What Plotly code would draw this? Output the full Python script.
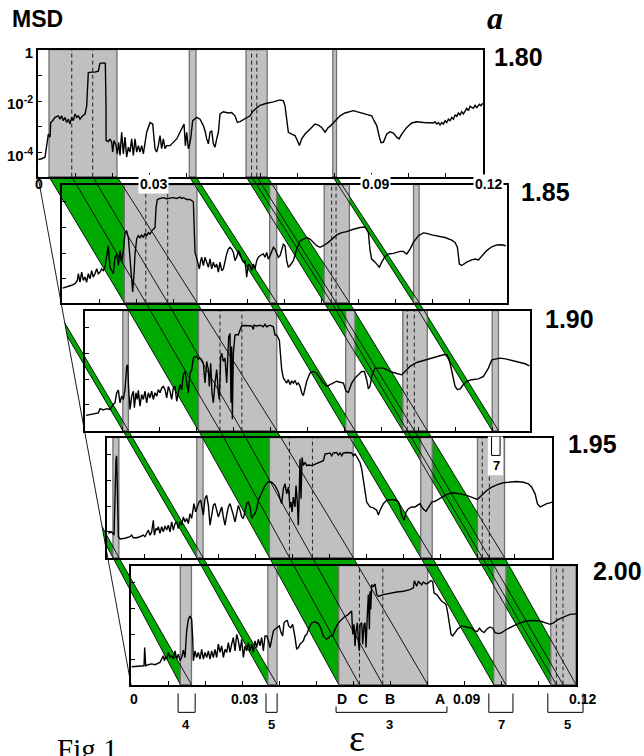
import plotly.graph_objects as go

# ------------------------------------------------------------------
# Data: MSD(eps) for five values of the control parameter.
# eps is stored in units of 1e-3, MSD as log10(MSD).
# ------------------------------------------------------------------
params = ["1.80", "1.85", "1.90", "1.95", "2.00"]

eps_180 = [0.09, 0.99, 1.89, 2.34, 2.79, 3.24, 3.42, 3.96, 4.58, 5.48,
           5.93, 6.38, 6.83, 7.28, 7.73, 8.18, 8.63, 9.08, 9.53, 9.98,
           10.43, 10.88, 11.33, 12.05, 12.68, 13.13, 13.57, 14.47, 15.37, 16.27,
           16.72, 17.62, 18.16, 18.34, 18.36, 18.97, 19.42, 19.87, 20.14, 20.50,
           21.04, 21.40, 21.76, 22.12, 22.56, 23.01, 23.46, 23.91, 24.36, 24.81,
           25.26, 25.71, 26.16, 26.61, 27.06, 27.51, 27.96, 28.41, 29.31, 30.21,
           30.93, 31.55, 32.00, 32.45, 32.90, 33.35, 33.80, 34.25, 34.70, 35.60,
           36.50, 37.40, 38.30, 39.02, 39.38, 39.74, 40.10, 40.54, 40.81, 41.17,
           41.71, 42.79, 43.69, 44.59, 45.04, 45.49, 45.94, 46.39, 46.84, 47.29,
           47.74, 48.19, 48.64, 49.09, 49.98, 51.33, 52.23, 53.13, 53.76, 54.48,
           55.38, 56.28, 57.18, 58.08, 58.97, 59.87, 61.67, 63.47, 65.27, 66.17,
           66.62, 67.07, 67.51, 68.41, 69.31, 69.94, 70.48, 71.11, 72.01, 72.91,
           73.81, 74.71, 75.61, 76.50, 77.40, 78.30, 78.75, 79.65, 80.55, 81.45,
           82.80, 84.15, 85.05, 85.94, 87.29, 88.64, 89.99, 90.62, 91.34, 92.06,
           92.51, 93.14, 94.04, 94.93, 95.83, 96.73, 97.36, 98.08, 99.43, 100.78,
           102.13, 103.92, 105.72, 106.62, 107.07, 107.52, 107.97, 108.42, 108.87, 109.32,
           109.77, 110.22, 110.67, 111.12, 111.57, 112.02, 112.47, 112.92, 113.37, 113.81,
           114.26, 114.71, 115.61, 116.06, 116.51, 117.41, 117.86, 118.31, 119.03, 119.48,
           119.93]
lg_180 = [-4.27, -4.24, -4.18, -3.73, -3.28, -3.40, -2.83, -2.76, -2.63, -2.57,
          -2.70, -2.57, -2.76, -2.63, -2.83, -2.70, -2.89, -2.63, -2.76, -2.50,
          -2.63, -2.57, -2.70, -2.57, -2.50, -2.18, -0.89, -0.87, -0.87, -0.83,
          -0.53, -0.51, -0.53, -2.18, -3.53, -3.57, -3.47, -3.60, -3.98, -3.53,
          -3.73, -4.05, -3.60, -4.11, -3.21, -4.05, -3.40, -4.18, -3.79, -3.98,
          -3.47, -4.11, -3.47, -3.98, -3.73, -3.98, -3.73, -4.05, -3.21, -2.83,
          -2.89, -3.85, -3.98, -3.73, -3.34, -3.85, -3.47, -3.85, -3.73, -3.73,
          -3.60, -3.47, -3.21, -2.95, -2.89, -3.73, -3.21, -3.85, -3.73, -3.47,
          -2.76, -2.63, -2.70, -2.95, -3.15, -3.47, -3.66, -3.21, -3.15, -3.66,
          -3.79, -3.47, -3.21, -2.50, -2.41, -2.46, -2.44, -2.57, -2.83, -2.80,
          -2.72, -2.67, -2.57, -2.37, -2.25, -2.16, -2.08, -2.03, -1.95, -1.99,
          -2.18, -2.83, -3.21, -3.28, -3.34, -3.53, -3.73, -3.47, -3.28, -3.15,
          -3.02, -2.89, -2.93, -3.02, -3.21, -3.02, -2.98, -2.83, -2.70, -2.57,
          -2.46, -2.41, -2.37, -2.41, -2.46, -2.50, -2.57, -2.76, -2.95, -3.40,
          -3.62, -3.60, -3.28, -3.19, -3.24, -3.40, -3.47, -3.28, -3.02, -2.85,
          -2.80, -2.83, -2.83, -2.85, -2.80, -2.89, -2.83, -2.93, -2.83, -2.89,
          -2.76, -2.83, -2.70, -2.76, -2.63, -2.70, -2.54, -2.59, -2.46, -2.54,
          -2.41, -2.50, -2.28, -2.37, -2.20, -2.28, -2.16, -2.25, -2.12, -2.18,
          -2.08]

eps_185 = [0.18, 1.26, 2.61, 3.51, 4.14, 4.41, 4.85, 5.30, 5.75, 6.20,
           6.65, 7.10, 7.55, 8.00, 8.45, 8.90, 9.35, 9.80, 10.25, 10.70,
           11.15, 11.60, 12.05, 12.50, 12.95, 13.40, 13.84, 14.29, 14.74, 15.19,
           15.64, 16.09, 16.54, 16.99, 17.44, 17.89, 18.34, 18.79, 19.06, 19.42,
           19.69, 20.14, 20.59, 21.04, 21.49, 21.94, 22.38, 22.83, 23.28, 23.73,
           24.18, 24.63, 25.08, 25.35, 25.71, 26.43, 27.33, 28.23, 29.13, 30.03,
           30.93, 31.82, 32.27, 32.72, 33.62, 34.52, 35.42, 35.87, 36.32, 36.77,
           37.04, 37.40, 37.67, 38.12, 38.57, 39.02, 39.47, 39.92, 40.37, 40.81,
           41.26, 41.71, 42.16, 42.61, 43.06, 43.51, 43.96, 44.41, 44.86, 45.31,
           45.76, 46.21, 46.66, 47.11, 47.56, 48.01, 48.46, 48.91, 49.36, 49.80,
           50.25, 50.70, 51.15, 51.60, 52.05, 52.50, 52.95, 53.40, 54.30, 54.75,
           55.20, 55.65, 56.10, 56.55, 57.00, 57.45, 57.90, 58.35, 58.79, 59.24,
           59.69, 60.14, 60.59, 61.04, 61.49, 62.39, 63.29, 64.19, 65.09, 65.99,
           66.89, 67.78, 68.68, 69.58, 70.48, 71.83, 72.28, 73.18, 74.08, 75.43,
           76.78, 78.57, 80.37, 81.72, 82.62, 83.07, 83.52, 84.42, 85.58, 86.21,
           87.11, 88.01, 89.36, 91.16, 92.06, 92.96, 93.86, 94.75, 96.10, 97.45,
           98.35, 99.70, 101.50, 103.29, 105.09, 105.99, 106.62, 107.16, 107.79, 109.14,
           110.49, 111.39, 112.29, 113.18, 114.53, 115.88, 117.23, 118.58, 119.66]
lg_185 = [-4.36, -4.32, -4.25, -4.19, -4.06, -3.80, -4.13, -3.74, -4.06, -3.93,
          -4.13, -3.80, -4.00, -3.68, -3.93, -3.80, -3.61, -3.80, -3.74, -3.61,
          -3.68, -3.55, -3.10, -2.71, -3.55, -3.68, -3.80, -3.16, -3.03, -3.48,
          -2.90, -3.35, -2.90, -2.20, -2.13, -2.39, -3.16, -3.80, -4.51, -3.80,
          -3.03, -2.45, -2.32, -2.39, -2.29, -2.39, -2.23, -2.32, -2.20, -2.26,
          -2.13, -2.07, -2.00, -1.23, -0.91, -0.87, -0.84, -0.88, -0.87, -0.84,
          -0.87, -0.82, -0.87, -0.84, -0.91, -0.91, -1.00, -2.97, -3.19, -3.42,
          -3.61, -3.29, -3.16, -3.48, -3.16, -3.35, -3.55, -3.22, -3.61, -3.35,
          -3.55, -3.42, -3.74, -3.35, -3.68, -3.61, -3.29, -3.03, -2.84, -2.77,
          -2.84, -2.97, -3.29, -3.16, -2.90, -3.03, -3.23, -3.35, -3.29, -3.93,
          -3.42, -3.48, -3.68, -3.42, -3.61, -3.29, -3.16, -3.10, -3.03, -3.16,
          -2.97, -3.23, -3.10, -2.90, -2.77, -2.84, -3.03, -3.16, -3.10, -2.84,
          -2.65, -2.71, -3.29, -3.55, -3.48, -3.29, -2.84, -2.52, -2.45, -2.39,
          -2.45, -2.58, -2.71, -2.77, -2.71, -2.58, -2.52, -2.39, -2.29, -2.20,
          -2.16, -2.07, -2.00, -1.98, -2.20, -2.90, -3.23, -3.35, -3.55, -3.35,
          -3.13, -3.03, -3.01, -2.93, -2.93, -3.03, -2.84, -2.58, -2.32, -2.21,
          -2.23, -2.29, -2.34, -2.39, -2.49, -2.58, -2.77, -3.42, -3.48, -3.35,
          -3.26, -3.23, -3.26, -3.10, -2.90, -2.75, -2.68, -2.67, -2.71]

eps_190 = [0.27, 1.35, 2.70, 3.60, 4.05, 4.94, 5.84, 6.74, 7.64, 8.09,
           8.54, 8.99, 9.44, 9.89, 10.34, 10.79, 11.24, 11.51, 11.78, 12.14,
           12.59, 13.04, 13.31, 13.75, 14.11, 14.38, 14.83, 15.28, 15.73, 16.18,
           16.63, 17.08, 17.53, 17.98, 18.43, 18.88, 19.33, 19.78, 20.23, 20.68,
           21.13, 21.58, 22.03, 22.48, 22.92, 23.37, 23.82, 24.27, 24.72, 25.17,
           25.62, 26.07, 26.52, 26.97, 27.42, 27.87, 28.32, 28.77, 29.22, 29.67,
           30.12, 30.57, 31.02, 31.47, 31.91, 32.36, 32.81, 33.26, 33.53, 33.89,
           34.25, 34.61, 35.06, 35.51, 35.96, 36.23, 36.59, 36.86, 37.31, 37.76,
           38.21, 38.48, 38.75, 39.10, 39.37, 39.55, 39.73, 40.00, 40.27, 40.45,
           40.90, 41.35, 41.80, 42.25, 43.15, 44.05, 44.95, 45.40, 45.58, 46.30,
           47.20, 48.09, 48.55, 48.99, 49.89, 50.79, 51.24, 51.69, 52.41, 53.04,
           53.49, 54.39, 54.84, 55.29, 55.74, 56.19, 56.64, 57.09, 57.54, 57.99,
           58.44, 58.88, 59.33, 59.78, 60.68, 61.58, 62.48, 63.38, 64.28, 65.18,
           66.08, 66.98, 67.87, 68.77, 69.67, 70.39, 71.02, 71.92, 72.82, 73.72,
           74.62, 75.33, 75.96, 76.41, 76.86, 77.31, 77.76, 78.21, 79.11, 80.46,
           81.36, 82.26, 83.61, 84.51, 85.40, 86.30, 87.65, 89.45, 91.25, 93.05,
           94.85, 96.65, 97.55, 98.00, 98.45, 98.90, 99.35, 99.80, 100.43, 101.15,
           102.05, 102.94, 104.29, 106.09, 107.44, 108.79, 109.69, 110.59, 111.94, 113.74,
           115.54, 117.34, 118.69, 119.86]
lg_190 = [-4.41, -4.37, -4.35, -4.31, -4.15, -4.20, -4.15, -4.18, -3.98, -3.92,
          -3.53, -3.43, -3.92, -3.66, -3.79, -3.41, -2.50, -2.44, -3.41, -4.18,
          -3.66, -3.47, -4.11, -3.53, -3.79, -3.43, -4.05, -3.60, -3.79, -3.47,
          -3.92, -3.53, -3.73, -3.47, -3.79, -3.53, -3.66, -3.41, -3.53, -3.34,
          -3.28, -3.41, -3.73, -3.28, -3.47, -3.79, -3.34, -3.28, -3.86, -3.53,
          -3.21, -3.41, -2.83, -2.70, -3.15, -3.53, -2.76, -2.63, -2.18, -2.12,
          -2.12, -2.22, -2.18, -2.25, -2.38, -3.15, -2.31, -2.63, -3.28, -2.38,
          -3.53, -3.92, -3.15, -2.63, -3.53, -3.79, -2.12, -1.99, -2.31, -2.18,
          -3.15, -2.38, -1.35, -1.22, -3.92, -1.73, -4.56, -1.99, -1.48, -1.28,
          -1.26, -1.28, -1.09, -0.93, -0.91, -0.93, -0.93, -1.06, -0.90, -0.93,
          -0.90, -0.96, -0.86, -0.96, -0.90, -0.96, -1.28, -1.28, -1.48, -2.63,
          -2.95, -3.15, -3.02, -3.21, -3.08, -3.15, -3.05, -3.21, -3.15, -3.28,
          -3.53, -3.64, -3.41, -3.08, -2.76, -2.70, -2.76, -2.96, -3.15, -3.28,
          -3.21, -3.15, -3.08, -3.12, -3.15, -3.47, -3.51, -3.15, -2.95, -2.83,
          -2.70, -2.70, -3.02, -3.38, -3.28, -2.89, -2.76, -2.57, -2.57, -2.57,
          -2.63, -2.70, -2.76, -2.80, -2.83, -2.70, -2.50, -2.35, -2.27, -2.18,
          -2.12, -2.05, -2.05, -2.18, -2.38, -2.70, -3.08, -3.28, -3.41, -3.38,
          -3.21, -3.08, -3.02, -2.99, -2.89, -2.57, -2.25, -2.22, -2.18, -2.22,
          -2.27, -2.35, -2.40, -2.48]

eps_195 = [0.36, 1.26, 1.89, 2.16, 2.43, 2.61, 2.79, 3.06, 3.51, 4.85,
           6.20, 6.65, 7.10, 8.00, 8.90, 9.80, 10.25, 10.70, 11.15, 11.60,
           12.05, 12.50, 12.77, 13.22, 13.57, 13.84, 14.29, 14.74, 15.19, 15.64,
           16.09, 16.54, 16.99, 17.44, 17.89, 18.34, 18.79, 19.24, 19.69, 20.14,
           20.59, 21.04, 21.49, 21.94, 22.38, 22.83, 23.10, 23.46, 23.91, 24.36,
           24.81, 25.26, 25.62, 25.98, 26.43, 26.88, 27.33, 27.78, 28.23, 28.68,
           29.13, 29.58, 30.03, 30.48, 30.93, 31.37, 31.82, 32.27, 32.72, 33.17,
           33.62, 34.07, 34.52, 34.97, 35.42, 35.87, 36.32, 36.77, 37.22, 37.67,
           38.12, 38.57, 39.02, 39.47, 39.92, 40.37, 40.81, 41.71, 42.61, 43.51,
           44.41, 45.31, 46.21, 46.66, 47.11, 47.56, 48.01, 48.46, 48.91, 49.36,
           49.62, 49.89, 50.25, 50.70, 50.97, 51.33, 51.60, 51.87, 52.05, 52.32,
           52.59, 52.95, 53.40, 53.85, 54.30, 55.20, 56.10, 57.45, 58.35, 58.79,
           59.69, 60.14, 60.59, 61.04, 61.94, 62.39, 62.84, 63.29, 63.74, 64.64,
           65.99, 66.44, 66.89, 67.34, 68.23, 68.68, 69.13, 70.03, 70.93, 71.83,
           72.73, 73.18, 73.63, 74.53, 75.43, 76.33, 77.22, 77.94, 78.57, 79.02,
           79.47, 80.10, 80.64, 81.27, 82.17, 83.07, 83.70, 84.42, 84.87, 85.32,
           86.04, 86.66, 87.56, 88.46, 89.81, 91.16, 92.06, 93.41, 95.20, 97.00,
           98.80, 99.88, 101.05, 102.40, 103.75, 105.10, 106.89, 108.69, 110.49, 112.29,
           113.64, 114.54, 115.44, 116.07, 116.79, 117.69, 118.58, 119.48, 120.0]
lg_195 = [-4.06, -4.00, -4.13, -2.32, -1.17, -1.04, -2.32, -4.19, -4.28, -4.25,
          -4.19, -4.13, -4.23, -4.23, -4.19, -4.13, -4.19, -4.06, -3.93, -4.13,
          -4.00, -3.55, -4.13, -3.87, -3.93, -3.80, -4.06, -3.80, -4.00, -3.77,
          -3.93, -3.74, -4.00, -3.61, -3.93, -3.68, -3.61, -3.87, -3.61, -3.74,
          -3.42, -3.61, -3.48, -3.68, -3.29, -3.48, -3.16, -2.90, -3.22, -3.03,
          -2.84, -2.77, -3.10, -3.35, -2.71, -2.58, -2.97, -3.74, -3.35, -2.97,
          -2.90, -3.16, -3.42, -3.23, -3.03, -3.42, -3.74, -3.35, -3.03, -2.90,
          -3.10, -3.35, -3.61, -3.29, -2.97, -3.16, -3.42, -3.48, -3.22, -2.90,
          -2.84, -3.03, -3.48, -3.35, -3.29, -3.10, -2.77, -2.45, -2.20, -2.04,
          -2.07, -2.20, -2.45, -2.71, -2.90, -2.32, -2.13, -2.52, -2.26, -3.03,
          -2.84, -3.23, -2.65, -3.03, -2.20, -2.84, -3.74, -2.32, -1.17, -2.71,
          -1.10, -1.42, -1.29, -1.42, -1.40, -1.42, -1.36, -1.29, -1.23, -0.97,
          -0.93, -0.93, -1.04, -0.93, -0.91, -1.01, -0.93, -1.04, -0.93, -0.91,
          -0.93, -1.04, -0.97, -1.10, -1.30, -1.55, -2.00, -2.84, -3.03, -3.07,
          -3.16, -3.35, -3.16, -2.90, -2.77, -2.74, -2.74, -2.77, -2.84, -3.03,
          -3.35, -3.55, -3.23, -3.10, -3.03, -3.03, -2.97, -2.90, -3.03, -3.12,
          -3.20, -3.03, -2.84, -2.81, -2.68, -2.58, -2.52, -2.48, -2.52, -2.58,
          -2.68, -2.74, -2.58, -2.39, -2.26, -2.17, -2.09, -2.07, -2.04, -2.07,
          -2.13, -2.26, -2.52, -2.90, -3.03, -2.97, -2.90, -2.87, -2.84]

eps_200 = [0.18, 1.53, 2.88, 3.51, 3.69, 3.96, 4.67, 5.57, 6.47, 7.37,
           7.82, 8.27, 8.72, 8.99, 9.35, 9.62, 10.07, 10.52, 10.97, 11.42,
           11.87, 12.32, 12.77, 13.22, 13.66, 14.11, 14.56, 15.01, 15.46, 15.91,
           16.36, 16.63, 16.81, 17.26, 17.71, 18.16, 18.61, 19.06, 19.51, 19.96,
           20.41, 20.86, 21.31, 21.76, 22.21, 22.65, 23.10, 23.55, 24.00, 24.45,
           24.90, 25.35, 25.80, 26.25, 26.70, 27.15, 27.60, 28.05, 28.50, 28.95,
           29.40, 29.85, 30.30, 30.75, 31.19, 31.64, 32.09, 32.54, 32.99, 33.44,
           33.89, 34.34, 34.79, 35.24, 35.69, 36.14, 36.59, 37.04, 37.49, 37.94,
           38.39, 38.84, 39.29, 40.00, 40.46, 40.90, 41.26, 41.71, 42.16, 42.52,
           43.06, 43.60, 44.23, 44.68, 45.13, 45.58, 46.03, 46.48, 46.93, 47.38,
           48.10, 48.73, 49.63, 50.52, 51.15, 51.87, 52.59, 53.22, 53.67, 54.39,
           55.02, 55.92, 57.27, 58.61, 59.51, 59.78, 60.14, 60.41, 60.68, 61.04,
           61.31, 61.58, 61.76, 62.21, 62.48, 62.84, 63.11, 63.38, 63.74, 64.01,
           64.28, 64.46, 64.64, 64.91, 65.36, 65.81, 66.26, 66.71, 68.06, 69.85,
           71.65, 73.45, 75.25, 76.15, 76.42, 77.04, 77.49, 77.94, 78.39, 78.84,
           79.56, 80.19, 80.82, 81.36, 81.72, 82.44, 83.16, 83.79, 84.42, 84.96,
           85.41, 85.85, 86.30, 86.75, 87.38, 88.01, 89.18, 90.53, 91.88, 92.78,
           93.41, 93.95, 94.58, 95.20, 95.92, 96.82, 97.54, 98.17, 99.07, 99.97,
           101.32, 103.12, 104.92, 106.71, 108.51, 110.31, 112.11, 113.01, 113.91, 115.26,
           116.61, 118.41, 120.0]
lg_200 = [-4.27, -4.25, -4.24, -4.23, -3.52, -4.23, -4.19, -4.16, -4.19, -4.14,
          -4.10, -3.97, -3.84, -4.04, -3.88, -3.97, -3.71, -3.91, -3.84, -3.97,
          -3.65, -3.97, -3.78, -4.04, -3.91, -3.62, -3.91, -2.88, -2.43, -2.30,
          -2.43, -3.13, -4.04, -3.65, -3.91, -3.71, -3.97, -3.59, -3.97, -3.71,
          -3.91, -3.65, -3.97, -3.65, -3.91, -3.59, -3.91, -3.39, -3.71, -3.46,
          -3.91, -3.59, -3.71, -3.33, -3.71, -3.39, -3.13, -3.65, -3.01, -3.26,
          -3.65, -3.20, -3.91, -3.46, -3.65, -3.33, -3.65, -3.39, -3.71, -3.26,
          -3.52, -3.20, -3.46, -3.13, -3.65, -3.07, -3.07, -3.26, -3.52, -3.20,
          -2.88, -2.81, -2.75, -2.68, -2.94, -3.07, -2.56, -2.49, -2.47, -2.68,
          -2.75, -2.62, -3.13, -3.59, -3.52, -3.39, -3.33, -3.26, -3.07, -3.01,
          -2.72, -2.56, -2.52, -2.59, -2.75, -3.07, -3.20, -3.16, -3.07, -3.07,
          -2.81, -2.56, -2.36, -2.23, -2.10, -3.01, -2.62, -3.46, -2.88, -2.56,
          -3.26, -3.65, -2.62, -2.56, -3.39, -2.62, -2.56, -3.52, -2.23, -1.46,
          -2.81, -1.33, -2.04, -1.08, -1.14, -1.05, -1.46, -1.53, -1.46, -1.40,
          -1.36, -1.33, -1.27, -1.20, -0.92, -1.14, -0.95, -1.01, -1.08, -0.97,
          -1.05, -1.01, -0.92, -0.95, -1.40, -1.46, -1.59, -1.72, -1.78, -1.85,
          -2.17, -2.68, -3.01, -3.07, -2.94, -2.81, -2.68, -2.72, -2.77, -2.88,
          -2.90, -2.77, -2.88, -2.94, -2.81, -2.72, -2.77, -2.94, -2.98, -2.94,
          -2.81, -2.68, -2.56, -2.49, -2.47, -2.49, -2.56, -2.62, -2.56, -2.43,
          -2.34, -2.23, -2.21]

curve_eps = [eps_180, eps_185, eps_190, eps_195, eps_200]
curve_lg = [lg_180, lg_185, lg_190, lg_195, lg_200]

# Windows (grey bands) in each panel, eps in 1e-3, with the dashed markers inside
band_lo = [[2.97, 40.8, 56.1, 79.5],
           [16.8, 56.0, 70.7, 94.8],
           [10.2, 30.6, 70.3, 85.7, 109.8],
           [1.6, 24.2, 43.8, 84.6, 99.9],
           [13.3, 36.9, 56.0, 97.8, 113.2]]
band_hi = [[21.3, 42.6, 61.8, 80.5],
           [36.4, 57.9, 77.5, 96.3],
           [11.7, 51.7, 72.8, 92.3, 111.5],
           [3.2, 25.9, 66.4, 87.7, 107.2],
           [16.3, 39.4, 80.0, 101.1, 120.0]]
band_dash = [[[9.1, 14.75], [], [57.6, 59.0], []],
             [[22.6, 28.5], [], [72.7, 73.9], []],
             [[], [36.4, 42.3], [], [86.9, 88.8], []],
             [[], [], [49.2, 55.4], [], [101.2, 103.1]],
             [[], [], [61.6, 67.9], [], [114.7, 116.5]]]
# windows that enter the range from eps < 0 (index -1 in the chains)
enter_lo = [None, -3.9, -11.0, None, None]
enter_hi = [None, -2.5, -9.4, None, None]

# each window followed from one parameter value to the next: (panel, band)
chains = [[(0, 0), (1, 0), (2, 1), (3, 2), (4, 2)],
          [(0, 1), (1, 1), (2, 2), (3, 3), (4, 3)],
          [(0, 2), (1, 2), (2, 3), (3, 4), (4, 4)],
          [(0, 3), (1, 3), (2, 4)],
          [(1, -1), (2, 0), (3, 1), (4, 1)],
          [(2, -1), (3, 0), (4, 0)]]

# labels under the last panel (eps in 1e-3)
bottom_tick_text = ["0", "0.03", "0.09", "0.12"]
bottom_tick_eps = [0.0, 30.0, 90.0, 120.0]
letter_text = ["D", "C", "B", "A"]
letter_eps = [57.0, 62.6, 69.9, 83.3]
bracket_text = ["4", "5", "3", "7", "5"]
bracket_lo = [12.7, 36.4, 55.3, 96.5, 112.4]
bracket_hi = [17.3, 39.4, 85.2, 103.0, 121.9]
bracket_mid = [14.8, 38.0, 69.6, 100.0, 117.6]

# ------------------------------------------------------------------
# Page geometry (pixels of the 644 x 756 page)
# ------------------------------------------------------------------
W, H = 644, 756
EPS_MAX = 0.12
E3 = 1e-3
PANEL_LEFT = [38, 62, 85, 107, 131]
PANEL_TOP = [44, 180, 307, 435, 564]
PANEL_BOTTOM = [172, 299, 428, 556, 684]
PANEL_W = 445
PX_PER_DECADE = 25.9
TOP_LOG = [0.005, -0.33, -0.33, -0.33, -0.33]

GREEN = "#00aa00"
GREY = "#c0c0c0"
GREY_EDGE = "#707070"
SANS = "Liberation Sans, Arial, sans-serif"
SERIF = "Liberation Serif, Times New Roman, serif"


def px2x(px):
    return px / W


def px2y(py):
    return 1 - py / H


xdom = [[px2x(l), px2x(l + PANEL_W)] for l in PANEL_LEFT]
ydom = [[px2y(b), px2y(t)] for t, b in zip(PANEL_TOP, PANEL_BOTTOM)]


def eps_paper(k, e):
    d0, d1 = xdom[k]
    return d0 + (e * E3 / EPS_MAX) * (d1 - d0)


fig = go.Figure()

for k in range(5):
    sfx = "" if k == 0 else str(k + 1)
    fig.add_trace(go.Scatter(
        x=[e * E3 for e in curve_eps[k]],
        y=[10 ** v for v in curve_lg[k]],
        mode="lines", line=dict(color="black", width=1.4),
        xaxis="x" + sfx, yaxis="y" + sfx,
        hoverinfo="skip", showlegend=False))
    bottom_log = TOP_LOG[k] - (PANEL_BOTTOM[k] - PANEL_TOP[k]) / PX_PER_DECADE
    fig.layout["xaxis" + sfx] = dict(
        domain=xdom[k], range=[0, EPS_MAX], anchor="y" + sfx,
        showline=True, mirror=True, linecolor="black", linewidth=2,
        ticks="inside", ticklen=4, tickwidth=1, tickcolor="black",
        tick0=0, dtick=0.01, showticklabels=False,
        showgrid=False, zeroline=False, fixedrange=True)
    yax = dict(
        type="log", domain=ydom[k], range=[bottom_log, TOP_LOG[k]],
        anchor="x" + sfx, showline=True, mirror=True, linecolor="black",
        linewidth=2, ticks="inside", ticklen=4, tickwidth=1,
        tickcolor="black", showgrid=False, zeroline=False, fixedrange=True)
    if k == 0:
        yax.update(tickvals=[1, 1e-2, 1e-4],
                   ticktext=["1", "10<sup>-2</sup>", "10<sup>-4</sup>"],
                   showticklabels=True, ticklabelshift=3,
                   tickfont=dict(family=SANS, size=15, color="black", weight="bold"),
                   minor=dict(tickvals=[1e-1, 1e-3], ticks="inside", ticklen=4,
                              tickwidth=1, tickcolor="black", showgrid=False))
    else:
        yax.update(tickvals=[1e-1, 1e-2, 1e-3, 1e-4], showticklabels=False)
    fig.layout["yaxis" + sfx] = yax

shapes = []

# --- green sheets joining a window to its position at the next parameter
corner_a = (xdom[0][0], ydom[0][0])
corner_b = (xdom[4][0], ydom[4][0])


def side(p):
    return ((corner_b[0] - corner_a[0]) * (p[1] - corner_a[1])
            - (corner_b[1] - corner_a[1]) * (p[0] - corner_a[0]))


def clip_polygon(pts):
    out = []
    n = len(pts)
    for i in range(n):
        p, q = pts[i], pts[(i + 1) % n]
        fp, fq = side(p), side(q)
        if fp >= 0:
            out.append(p)
        if (fp >= 0) != (fq >= 0):
            t = fp / (fp - fq)
            out.append((p[0] + t * (q[0] - p[0]), p[1] + t * (q[1] - p[1])))
    return out


def clip_segment(p, q):
    fp, fq = side(p), side(q)
    if fp < 0 and fq < 0:
        return None
    if fp >= 0 and fq >= 0:
        return p, q
    t = fp / (fp - fq)
    m = (p[0] + t * (q[0] - p[0]), p[1] + t * (q[1] - p[1]))
    return (p, m) if fp >= 0 else (m, q)


def band_at(k, j):
    if j < 0:
        return enter_lo[k], enter_hi[k], []
    return band_lo[k][j], band_hi[k][j], band_dash[k][j]


connectors = []
for chain in chains:
    for (k1, j1), (k2, j2) in zip(chain[:-1], chain[1:]):
        lo1, hi1, d1 = band_at(k1, j1)
        lo2, hi2, d2 = band_at(k2, j2)
        y1, y2 = ydom[k1][0], ydom[k2][0]
        poly = clip_polygon([(eps_paper(k1, lo1), y1), (eps_paper(k1, hi1), y1),
                             (eps_paper(k2, hi2), y2), (eps_paper(k2, lo2), y2)])
        if len(poly) >= 3:
            path = "M " + " L ".join(f"{x:.5f},{y:.5f}" for x, y in poly) + " Z"
            shapes.append(dict(type="path", path=path, xref="paper", yref="paper",
                               fillcolor=GREEN, line=dict(width=0), layer="below"))
        pairs = [(lo1, lo2), (hi1, hi2)] + list(zip(d1, d2))
        for a, b in pairs:
            seg = clip_segment((eps_paper(k1, a), y1), (eps_paper(k2, b), y2))
            if seg:
                connectors.append(seg)

# --- grey windows and dashed markers
for k in range(5):
    sfx = "" if k == 0 else str(k + 1)
    for lo, hi in zip(band_lo[k], band_hi[k]):
        shapes.append(dict(type="rect", xref="x" + sfx, yref="y" + sfx + " domain",
                           x0=lo * E3, x1=hi * E3, y0=0, y1=1,
                           fillcolor=GREY, line=dict(color=GREY_EDGE, width=1.3),
                           layer="below"))
for k in range(5):
    sfx = "" if k == 0 else str(k + 1)
    for dl in band_dash[k]:
        for e in dl:
            shapes.append(dict(type="line", xref="x" + sfx, yref="y" + sfx + " domain",
                               x0=e * E3, x1=e * E3, y0=0, y1=1,
                               line=dict(color="#202020", width=1, dash="4px,3px"),
                               layer="below"))

# --- thin lines: panel corners and sheet edges
shapes.append(dict(type="line", xref="paper", yref="paper",
                   x0=corner_a[0], y0=corner_a[1], x1=corner_b[0], y1=corner_b[1],
                   line=dict(color="black", width=0.9), layer="above"))
for p, q in connectors:
    shapes.append(dict(type="line", xref="paper", yref="paper",
                       x0=p[0], y0=p[1], x1=q[0], y1=q[1],
                       line=dict(color="black", width=0.9), layer="above"))

# --- brackets under the last panel
for lo, hi, txt in zip(bracket_lo, bracket_hi, bracket_text):
    ytop = 706 if txt == "3" else 693
    x0, x1 = eps_paper(4, lo), eps_paper(4, hi)
    shapes.append(dict(type="path", xref="paper", yref="paper",
                       path=f"M {x0:.5f},{px2y(ytop):.5f} L {x0:.5f},{px2y(712):.5f} "
                            f"L {x1:.5f},{px2y(712):.5f} L {x1:.5f},{px2y(ytop):.5f}",
                       line=dict(color="black", width=1), layer="above"))

# --- small "7" marker on the 1.95 panel
shapes.append(dict(type="rect", xref="paper", yref="paper",
                   x0=eps_paper(3, 102.7), x1=eps_paper(3, 106.8),
                   y0=px2y(473), y1=px2y(434), fillcolor="white",
                   line=dict(width=0), layer="above"))
mx0, mx1 = eps_paper(3, 103.7), eps_paper(3, 106.0)
shapes.append(dict(type="path", xref="paper", yref="paper",
                   path=f"M {mx0:.5f},{px2y(434):.5f} L {mx0:.5f},{px2y(453):.5f} "
                        f"L {mx1:.5f},{px2y(453):.5f} L {mx1:.5f},{px2y(434):.5f}",
                   line=dict(color="black", width=1), layer="above"))

annotations = []


def text(s, x, y, size, family=SANS, bg=None, xanchor="center", xshift=0):
    a = dict(text=s, x=x, y=y, xref="paper", yref="paper", showarrow=False,
             xanchor=xanchor, yanchor="middle", xshift=xshift,
             font=dict(family=family, size=size, color="black"))
    if bg:
        a.update(bgcolor=bg, borderpad=1)
    annotations.append(a)


text("<b>MSD</b>", px2x(37), px2y(13), 23)
text("<b><i>a</i></b>", px2x(495), px2y(12), 32, family=SERIF)
label_pos = [(518, 51), (545, 187), (569, 315), (592, 442), (617, 570)]
for p, (lx, ly) in zip(params, label_pos):
    text(f"<b>{p}</b>", px2x(lx), px2y(ly), 25)

# eps labels of the first panel, on top of the second one
top_shift = [1, 4, 4, 5]
for t, e, s in zip(bottom_tick_text, bottom_tick_eps, top_shift):
    text(f"<b>{t}</b>", eps_paper(0, e), px2y(179), 14,
         bg=None if e == 0 else "white", xshift=s)

# eps labels of the last panel
bot_shift = [3, 2, 2, 6]
for t, e, s in zip(bottom_tick_text, bottom_tick_eps, bot_shift):
    text(f"<b>{t}</b>", eps_paper(4, e), px2y(699), 14, xshift=s)
for t, e in zip(letter_text, letter_eps):
    text(f"<b>{t}</b>", eps_paper(4, e), px2y(699), 14)
for t, e in zip(bracket_text, bracket_mid):
    text(f"<b>{t}</b>", eps_paper(4, e), px2y(724), 13)

text("<b>7</b>", eps_paper(3, 104.9), px2y(463), 13)
text("Fig 1", px2x(87), px2y(749), 29, family=SERIF)
text("\u03b5", px2x(357), px2y(738), 38, family=SERIF)

fig.update_layout(
    width=W, height=H, autosize=False,
    margin=dict(l=0, r=0, t=0, b=0),
    paper_bgcolor="white", plot_bgcolor="rgba(0,0,0,0)",
    showlegend=False, hovermode=False,
    font=dict(family=SANS, color="black"),
    shapes=shapes, annotations=annotations)

fig.write_html("out.html")
